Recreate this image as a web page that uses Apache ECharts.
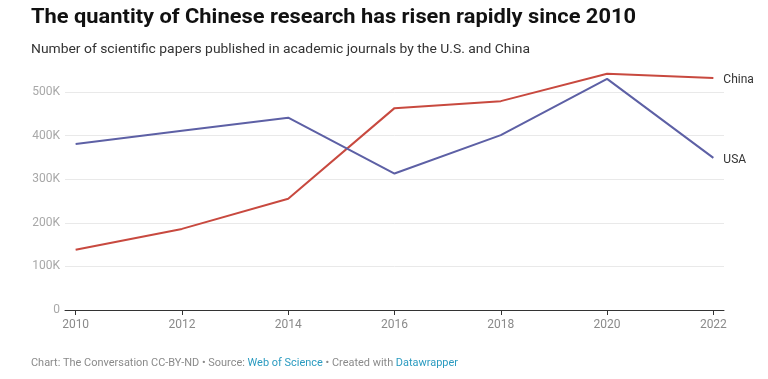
<!DOCTYPE html>
<html>
<head>
<meta charset="utf-8">
<script src="https://cdn.jsdelivr.net/npm/echarts@6/dist/echarts.min.js"></script>
<style>
html,body{margin:0;padding:0;background:#fff;}
#chart{width:768px;height:379px;}
</style>
</head>
<body>
<div id="chart"></div>
<script>
var titleText = 'The quantity of Chinese research has risen rapidly since 2010';
var subtitleText = 'Number of scientific papers published in academic journals by the U.S. and China';
var footerParts = ['Chart: The Conversation CC-BY-ND \u2022 Source: ', 'Web of Science', ' \u2022 Created with ', 'Datawrapper'];

var years = [2010, 2012, 2014, 2016, 2018, 2020, 2022];
var china = [138000, 186000, 255000, 463000, 479000, 542000, 532000];
var usa = [381000, 411000, 441000, 313000, 401000, 530000, 349000];
var yTicks = [0, 100000, 200000, 300000, 400000, 500000];

var FONT = 'Roboto, "Noto Sans", sans-serif';
var ctx = document.createElement('canvas').getContext('2d');
function fitScale(text, size, weight, target) {
  ctx.font = weight + ' ' + size + 'px Roboto';
  var w = ctx.measureText(text).width;
  return target / w;
}

var chart = echarts.init(document.getElementById('chart'), null, {renderer: 'canvas'});

function pairs(vals) {
  return years.map(function (y, i) { return [y, vals[i]]; });
}

var option = {
  backgroundColor: '#ffffff',
  animation: false,
  grid: {left: 65, right: 44, top: 92, bottom: 69, containLabel: false},
  xAxis: {
    type: 'value',
    min: 2009.8,
    max: 2022.2,
    axisLine: {show: true, lineStyle: {color: '#333333', width: 1}},
    axisTick: {show: true, length: 5, lineStyle: {color: '#333333'}, customValues: years},
    axisLabel: {
      customValues: years,
      color: '#8a8a8a', fontSize: 12, fontFamily: FONT, margin: 9,
      formatter: function (v) { return String(v); }
    },
    splitLine: {show: false}
  },
  yAxis: {
    type: 'value',
    min: 0,
    max: 500000,
    interval: 100000,
    axisLine: {show: false},
    axisTick: {show: false},
    axisLabel: {
      color: '#a8a8a8', fontSize: 12, fontFamily: FONT, margin: 5,
      formatter: function (v) { return v === 0 ? '0' : (v / 1000) + 'K'; }
    },
    splitLine: {show: true, lineStyle: {color: '#e9e9e9', width: 1}}
  },
  series: [
    {
      name: 'China', type: 'line', data: pairs(china), clip: false,
      showSymbol: false, symbol: 'none',
      lineStyle: {color: '#c8493f', width: 2},
      itemStyle: {color: '#c8493f'},
      endLabel: {show: true, formatter: '{a}', color: '#333333', fontSize: 12, fontFamily: FONT, distance: 10, offset: [0, 2]}
    },
    {
      name: 'USA', type: 'line', data: pairs(usa), clip: false,
      showSymbol: false, symbol: 'none',
      lineStyle: {color: '#5d60a5', width: 2},
      itemStyle: {color: '#5d60a5'},
      endLabel: {show: true, formatter: '{a}', color: '#333333', fontSize: 12, fontFamily: FONT, distance: 10, offset: [0, 2]}
    }
  ],
  graphic: [
    {
      type: 'text', x: 31, y: 18,
      scaleX: fitScale(titleText, 21, 'bold', 605),
      style: {text: titleText, fill: '#111111', font: 'bold 21px ' + FONT, verticalAlign: 'middle', align: 'left'}
    },
    {
      type: 'text', x: 31, y: 50,
      scaleX: fitScale(subtitleText, 13, 'normal', 499),
      style: {text: subtitleText, fill: '#333333', font: '13px ' + FONT, verticalAlign: 'middle', align: 'left'}
    },
    {
      type: 'text', x: 31, y: 363,
      scaleX: fitScale(footerParts.join(''), 11, 'normal', 427),
      style: {
        text: '{g|' + footerParts[0] + '}{l|' + footerParts[1] + '}{g|' + footerParts[2] + '}{l|' + footerParts[3] + '}',
        verticalAlign: 'middle', align: 'left',
        rich: {
          g: {fill: '#8a8a8a', fontSize: 11, fontFamily: FONT},
          l: {fill: '#2b9bc0', fontSize: 11, fontFamily: FONT}
        }
      }
    }
  ]
};
chart.setOption(option);
</script>
</body>
</html>
